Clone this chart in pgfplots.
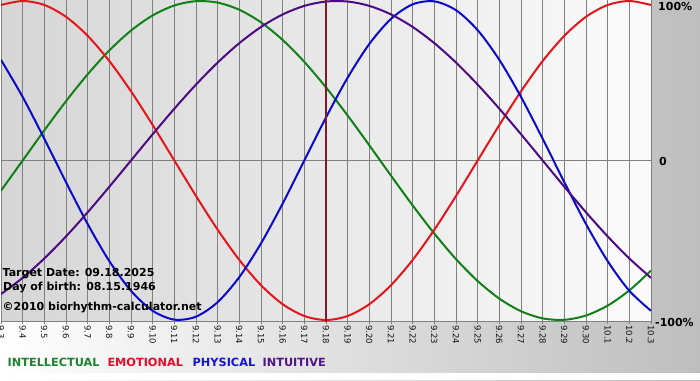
\documentclass[border=0pt]{standalone}
\usepackage{fontspec}
\setmainfont{DejaVu Sans}
\usepackage{pgfplots}
\pgfplotsset{compat=1.18}
\definecolor{cRed}{RGB}{228,22,28}
\definecolor{cGreen}{RGB}{18,128,24}
\definecolor{cBlue}{RGB}{10,10,205}
\definecolor{cPurple}{RGB}{78,10,130}
\definecolor{lRed}{RGB}{235,10,40}
\definecolor{lGreen}{RGB}{30,130,50}
\definecolor{lBlue}{RGB}{20,20,210}
\definecolor{lPurple}{RGB}{80,20,140}
\definecolor{cTarget}{RGB}{130,25,35}
\definecolor{gridgray}{RGB}{128,128,128}
\definecolor{outerR}{RGB}{190,190,190}
\definecolor{plotL}{RGB}{214,214,214}
\definecolor{plotR}{RGB}{251,251,251}
\definecolor{ticktext}{RGB}{20,20,20}
\begin{document}
\begin{tikzpicture}[x=1pt,y=1pt]
\clip (0,0) rectangle (700,380);
\shade[left color=white, right color=outerR] (0,0) rectangle (700,380);
\fill[white] (0,0) rectangle (700,7);
\begin{axis}[
  at={(1pt,59pt)}, anchor=south west,
  scale only axis, width=650pt, height=321pt,
  xmin=-15, xmax=15, ymin=-1.00627, ymax=1.00627,
  axis background/.style={shade, left color=plotL, right color=plotR},
  xtick={-15,...,15},
  xticklabels={9.3,9.4,9.5,9.6,9.7,9.8,9.9,9.10,9.11,9.12,9.13,9.14,9.15,9.16,9.17,9.18,9.19,9.20,9.21,9.22,9.23,9.24,9.25,9.26,9.27,9.28,9.29,9.30,10.1,10.2,10.3},
  xtick pos=left,
  ytick={0}, yticklabels={},
  xmajorgrids, ymajorgrids,
  grid style={draw=gridgray, line width=1pt},
  axis line style={draw=gridgray, line width=1pt},
  tick align=outside, major tick length=3pt,
  xtick style={draw=gridgray, line width=1pt},
  ytick style={draw=none},
  xticklabel style={rotate=-90, anchor=west, font=\fontsize{8.5}{9}\selectfont, text=ticktext, inner sep=1pt},
  every axis plot/.append style={line width=2pt, smooth, no markers},
]
\addplot[cGreen] coordinates {(-15,-0.1893)(-14,0)(-13,0.1893)(-12,0.3717)(-11,0.5406)(-10,0.6901)(-9,0.8146)(-8,0.9096)(-7,0.9718)(-6,0.9989)(-5,0.9898)(-4,0.9450)(-3,0.8660)(-2,0.7557)(-1,0.6182)(0,0.4582)(1,0.2817)(2,0.0951)(3,-0.0951)(4,-0.2817)(5,-0.4582)(6,-0.6182)(7,-0.7557)(8,-0.8660)(9,-0.9450)(10,-0.9898)(11,-0.9989)(12,-0.9718)(13,-0.9096)(14,-0.8146)(15,-0.6901)};
\addplot[cRed] coordinates {(-15,0.9749)(-14,1)(-13,0.9749)(-12,0.9010)(-11,0.7818)(-10,0.6235)(-9,0.4339)(-8,0.2225)(-7,0)(-6,-0.2225)(-5,-0.4339)(-4,-0.6235)(-3,-0.7818)(-2,-0.9010)(-1,-0.9749)(0,-1)(1,-0.9749)(2,-0.9010)(3,-0.7818)(4,-0.6235)(5,-0.4339)(6,-0.2225)(7,0)(8,0.2225)(9,0.4339)(10,0.6235)(11,0.7818)(12,0.9010)(13,0.9749)(14,1)(15,0.9749)};
\addplot[cBlue] coordinates {(-15,0.6311)(-14,0.3984)(-13,0.1362)(-12,-0.1362)(-11,-0.3984)(-10,-0.6311)(-9,-0.8170)(-8,-0.9423)(-7,-0.9977)(-6,-0.9791)(-5,-0.8879)(-4,-0.7308)(-3,-0.5196)(-2,-0.2698)(-1,0)(0,0.2698)(1,0.5196)(2,0.7308)(3,0.8879)(4,0.9791)(5,0.9977)(6,0.9423)(7,0.8170)(8,0.6311)(9,0.3984)(10,0.1362)(11,-0.1362)(12,-0.3984)(13,-0.6311)(14,-0.8170)(15,-0.9423)};
\addplot[cPurple] coordinates {(-15,-0.8372)(-14,-0.7357)(-13,-0.6142)(-12,-0.4759)(-11,-0.3247)(-10,-0.1646)(-9,0)(-8,0.1646)(-7,0.3247)(-6,0.4759)(-5,0.6142)(-4,0.7357)(-3,0.8372)(-2,0.9158)(-1,0.9694)(0,0.9966)(1,0.9966)(2,0.9694)(3,0.9158)(4,0.8372)(5,0.7357)(6,0.6142)(7,0.4759)(8,0.3247)(9,0.1646)(10,0)(11,-0.1646)(12,-0.3247)(13,-0.4759)(14,-0.6142)(15,-0.7357)};
\addplot[cTarget, line width=2pt, sharp plot] coordinates {(0,-1.1)(0,1.1)};
\end{axis}
\begin{scope}[every node/.style={anchor=base west, inner sep=0pt, font=\fontsize{11}{13}\selectfont\bfseries, text=black}]
\node at (2.5,104) {Target Date: 09.18.2025};
\node at (3,89.3) {Day of birth: 08.15.1946};
\node at (2.5,69.3) {©2010 biorhythm-calculator.net};
\node at (658,369) {100\%};
\node at (659,214.3) {0};
\node at (655,54) {-100\%};
\end{scope}
\begin{scope}[every node/.style={anchor=base west, inner sep=0pt, font=\fontsize{11.3}{13}\selectfont\bfseries}]
\node[text=lGreen] at (7.5,14) {INTELLECTUAL};
\node[text=lRed] at (107.3,14) {EMOTIONAL};
\node[text=lBlue] at (192.5,14) {PHYSICAL};
\node[text=lPurple] at (262.5,14) {INTUITIVE};
\end{scope}
\end{tikzpicture}
\end{document}
